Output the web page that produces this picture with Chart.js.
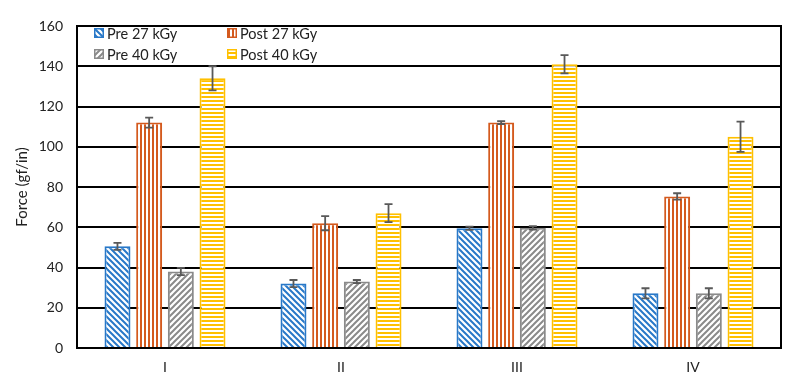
<!DOCTYPE html>
<html><head><meta charset="utf-8">
<script src="https://cdn.jsdelivr.net/npm/chart.js@4/dist/chart.umd.min.js"></script>
<style>html,body{margin:0;padding:0;background:#fff}#wrap{width:792px;height:389px}</style>
</head><body><div id="wrap"><canvas id="c" width="792" height="389"></canvas></div>
<script>
const categories = ['I', 'II', 'III', 'IV'];
const seriesLabels = ['Pre 27 kGy', 'Post 27 kGy', 'Pre 40 kGy', 'Post 40 kGy'];
const pre27 = [50.5, 32, 59.5, 27.2];
const post27 = [112, 62, 112, 75.3];
const pre40 = [38, 33, 59.7, 27.2];
const post40 = [134, 67, 141, 105];
const pre27Err = [1.7, 1.8, 0.8, 2.5];
const post27Err = [2.5, 3.5, 0.7, 1.6];
const pre40Err = [1.8, 0.8, 0.9, 2.5];
const post40Err = [6, 4.5, 4.5, 7.5];
const yTicks = [0, 20, 40, 60, 80, 100, 120, 140, 160];

const colors = ['#2878c8', '#d45a1e', '#8a8a8a', '#ffc000'];

function makePattern(kind, color) {
  const s = kind === 'v' || kind === 'h' ? 4 : 6;
  const c = document.createElement('canvas');
  c.width = s; c.height = s;
  const g = c.getContext('2d');
  g.fillStyle = '#fff'; g.fillRect(0, 0, s, s);
  g.strokeStyle = color; g.fillStyle = color;
  if (kind === 'v') { g.fillRect(0, 0, 2, s); }
  else if (kind === 'h') { g.fillRect(0, 0, s, 2); }
  else {
    g.lineWidth = 2; g.lineCap = 'square';
    g.beginPath();
    if (kind === 'b') {
      g.moveTo(-1, -1); g.lineTo(s + 1, s + 1);
      g.moveTo(s - 1, -1); g.lineTo(s + 1, 1);
      g.moveTo(-1, s - 1); g.lineTo(1, s + 1);
    } else {
      g.moveTo(-1, s + 1); g.lineTo(s + 1, -1);
      g.moveTo(-1, 1); g.lineTo(1, -1);
      g.moveTo(s - 1, s + 1); g.lineTo(s + 1, s - 1);
    }
    g.stroke();
  }
  return document.getElementById('c').getContext('2d').createPattern(c, 'repeat');
}
const patterns = [makePattern('b', colors[0]), makePattern('v', colors[1]), makePattern('s', colors[2]), makePattern('h', colors[3])];
const values = [pre27, post27, pre40, post40];
const errs = [pre27Err, post27Err, pre40Err, post40Err];

const FONT = 'Lato, "Open Sans", sans-serif';

const errorBars = {
  id: 'errorBars',
  afterDatasetsDraw(chart) {
    const ctx = chart.ctx, y = chart.scales.y;
    ctx.save();
    ctx.strokeStyle = '#595959'; ctx.lineWidth = 1.8;
    chart.data.datasets.forEach((ds, i) => {
      const meta = chart.getDatasetMeta(i);
      meta.data.forEach((bar, j) => {
        const v = ds.data[j], e = errs[i][j];
        const yt = y.getPixelForValue(v + e), yb = y.getPixelForValue(v - e), x = bar.x;
        ctx.beginPath();
        ctx.moveTo(x, yt); ctx.lineTo(x, yb);
        ctx.moveTo(x - 4, yt); ctx.lineTo(x + 4, yt);
        ctx.moveTo(x - 4, yb); ctx.lineTo(x + 4, yb);
        ctx.stroke();
      });
    });
    ctx.restore();
  }
};

const frameAndLegend = {
  id: 'frameAndLegend',
  afterDraw(chart) {
    const ctx = chart.ctx, a = chart.chartArea;
    ctx.save();
    ctx.strokeStyle = '#000'; ctx.lineWidth = 2;
    ctx.strokeRect(a.left, a.top, a.right - a.left, a.bottom - a.top);
    const pos = [[94, 33], [227, 33], [94, 54], [227, 54]];
    ctx.font = '14.5px ' + FONT;
    ctx.textBaseline = 'middle';
    chart.data.datasets.forEach((ds, i) => {
      const [x, yc] = pos[i];
      ctx.fillStyle = ds.backgroundColor;
      ctx.fillRect(x, yc - 5, 10, 10);
      ctx.strokeStyle = ds.borderColor; ctx.lineWidth = 1.5;
      ctx.strokeRect(x + 0.75, yc - 4.25, 8.5, 8.5);
      ctx.fillStyle = '#222';
      ctx.fillText(ds.label, x + 13, yc + 1);
    });
    ctx.restore();
  }
};

new Chart(document.getElementById('c'), {
  type: 'bar',
  data: {
    labels: categories,
    datasets: seriesLabels.map((lab, i) => ({
      label: lab,
      data: values[i],
      backgroundColor: patterns[i],
      borderColor: colors[i],
      borderWidth: 2,
      categoryPercentage: 0.72,
      barPercentage: 0.82
    }))
  },
  options: {
    responsive: false,
    animation: false,
    devicePixelRatio: 1,
    layout: { padding: { top: 26, right: 11, left: 13, bottom: 0 } },
    plugins: { legend: { display: false }, tooltip: { enabled: false } },
    scales: {
      x: {
        grid: { display: false },
        border: { display: false },
        ticks: { color: '#222', font: { size: 14, family: FONT }, padding: 3 },
        afterFit(s) { s.height = 41; }
      },
      y: {
        min: 0, max: 160,
        afterBuildTicks(s) { s.ticks = yTicks.map(v => ({ value: v })); },
        grid: { color: '#000', lineWidth: 2, drawTicks: false },
        border: { display: false },
        ticks: { color: '#222', font: { size: 14, family: FONT }, padding: 14 },
        title: { display: true, text: 'Force (gf/in)', color: '#222', font: { size: 15, family: FONT }, padding: 0 },
        afterFit(s) { s.width = 64; }
      }
    }
  },
  plugins: [errorBars, frameAndLegend]
});
</script></body></html>
